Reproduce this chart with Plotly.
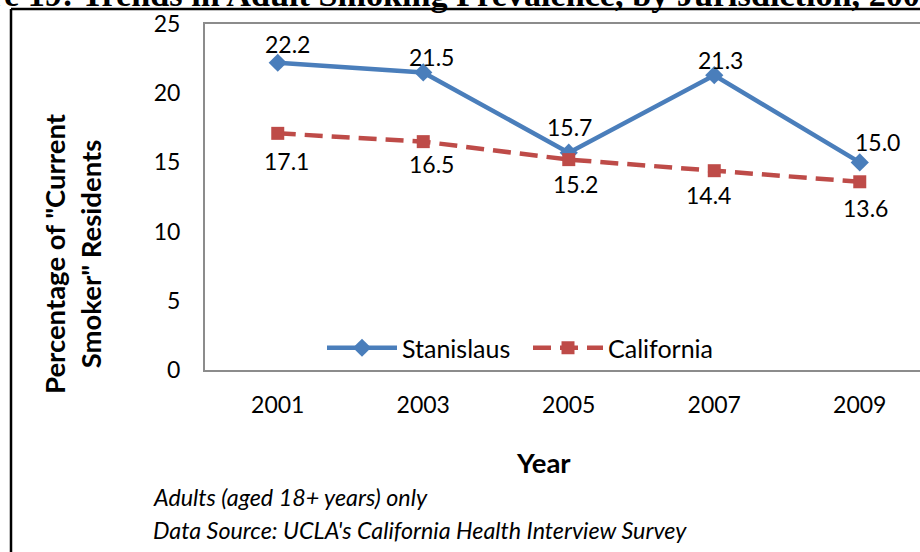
import plotly.graph_objects as go

years = ["2001", "2003", "2005", "2007", "2009"]
stanislaus = [22.2, 21.5, 15.7, 21.3, 15.0]
california = [17.1, 16.5, 15.2, 14.4, 13.6]
y_ticks = [0, 5, 10, 15, 20, 25]

BLUE = "#4A7EBB"
RED = "#BE4B48"
SANS = "Lato"

W, H = 920, 552
L, R, T, B = 205, 920, 24, 370


def px_x(p):
    return (p - L) / (R - L)


def px_y(p):
    return (B - p) / (B - T)


fig = go.Figure()
fig.add_trace(go.Scatter(
    x=years, y=stanislaus, name="Stanislaus", mode="lines+markers",
    line=dict(color=BLUE, width=4.5),
    marker=dict(symbol="diamond", size=14, color=BLUE),
))
fig.add_trace(go.Scatter(
    x=years, y=california, name="California", mode="lines+markers",
    line=dict(color=RED, width=4.5, dash="18px,9px"),
    marker=dict(symbol="square", size=13, color=RED),
))

# label nudges (dx, dy in px) to mimic the original label placement
stan_nudge = [(10, 19), (8, 15), (1, 26), (6, 15), (18, 20)]
cal_nudge = [(9, -28), (8, -22), (7, -24), (-6, -24), (6, -26)]

label_font = dict(family=SANS, size=23, color="black")
annotations = []
for i, (v, (dx, dy)) in enumerate(zip(stanislaus, stan_nudge)):
    annotations.append(dict(x=i, y=v, xref="x", yref="y", text=f"{v:.1f}",
                            showarrow=False, xshift=dx, yshift=dy,
                            xanchor="center", yanchor="middle", font=label_font))
for i, (v, (dx, dy)) in enumerate(zip(california, cal_nudge)):
    annotations.append(dict(x=i, y=v, xref="x", yref="y", text=f"{v:.1f}",
                            showarrow=False, xshift=dx, yshift=dy,
                            xanchor="center", yanchor="middle", font=label_font))

# axis titles
annotations.append(dict(x=px_x(72), y=px_y(254), xref="paper", yref="paper",
                        xanchor="center", yanchor="middle",
                        text="<b>Percentage of \"Current<br>Smoker\" Residents</b>",
                        textangle=-90, showarrow=False, align="center",
                        font=dict(family=SANS, size=27.5, color="black")))
annotations.append(dict(x=px_x(543), y=px_y(462), xref="paper", yref="paper",
                        xanchor="center", yanchor="middle",
                        text="<b>Year</b>", showarrow=False,
                        font=dict(family=SANS, size=27.5, color="black")))
# footnotes
foot_font = dict(family=SANS, size=23.3, color="black")
annotations.append(dict(x=px_x(151), y=px_y(497), xref="paper", yref="paper",
                        xanchor="left", yanchor="middle",
                        text="<i>Adults (aged 18+ years) only</i>",
                        showarrow=False, font=foot_font))
annotations.append(dict(x=px_x(151), y=px_y(530), xref="paper", yref="paper",
                        xanchor="left", yanchor="middle",
                        text="<i>Data Source: UCLA's California Health Interview Survey</i>",
                        showarrow=False, font=foot_font))
# cropped document caption at the very top
annotations.append(dict(x=px_x(-79), y=px_y(-6), xref="paper", yref="paper",
                        xanchor="left", yanchor="middle",
                        text="<b>Figure 19: Trends in Adult Smoking Prevalence, by Jurisdiction, 2001-2009</b>",
                        showarrow=False,
                        font=dict(family="Liberation Serif", size=34.2, color="black")))

shapes = [
    dict(type="line", xref="paper", yref="paper", x0=px_x(11), x1=px_x(925),
         y0=px_y(9), y1=px_y(9), line=dict(color="black", width=2.5)),
    dict(type="line", xref="paper", yref="paper", x0=px_x(11), x1=px_x(11),
         y0=px_y(9), y1=px_y(560), line=dict(color="black", width=2.5)),
]

fig.update_layout(
    width=W, height=H,
    margin=dict(l=L, r=W - R, t=T, b=H - B, pad=0),
    paper_bgcolor="white", plot_bgcolor="white",
    showlegend=True,
    legend=dict(orientation="h", x=px_x(322), y=px_y(348), xanchor="left",
                yanchor="middle", font=dict(family=SANS, size=25, color="black"),
                itemwidth=70, entrywidth=121, bgcolor="rgba(0,0,0,0)"),
    annotations=annotations,
    shapes=shapes,
    font=dict(family=SANS, color="black"),
)
fig.update_xaxes(
    type="category", range=[-0.5, 4.414], showgrid=False, zeroline=False,
    showline=True, linecolor="#8C8C8C", linewidth=2, mirror=True,
    ticks="", ticklabelstandoff=13,
    tickfont=dict(family=SANS, size=23, color="black"),
)
fig.update_yaxes(
    range=[0, 25], tickvals=y_ticks, showgrid=False, zeroline=False,
    showline=True, linecolor="#8C8C8C", linewidth=2, mirror=False,
    ticks="", ticklabelstandoff=18,
    tickfont=dict(family=SANS, size=23, color="black"),
)

fig.write_html("out.html")
